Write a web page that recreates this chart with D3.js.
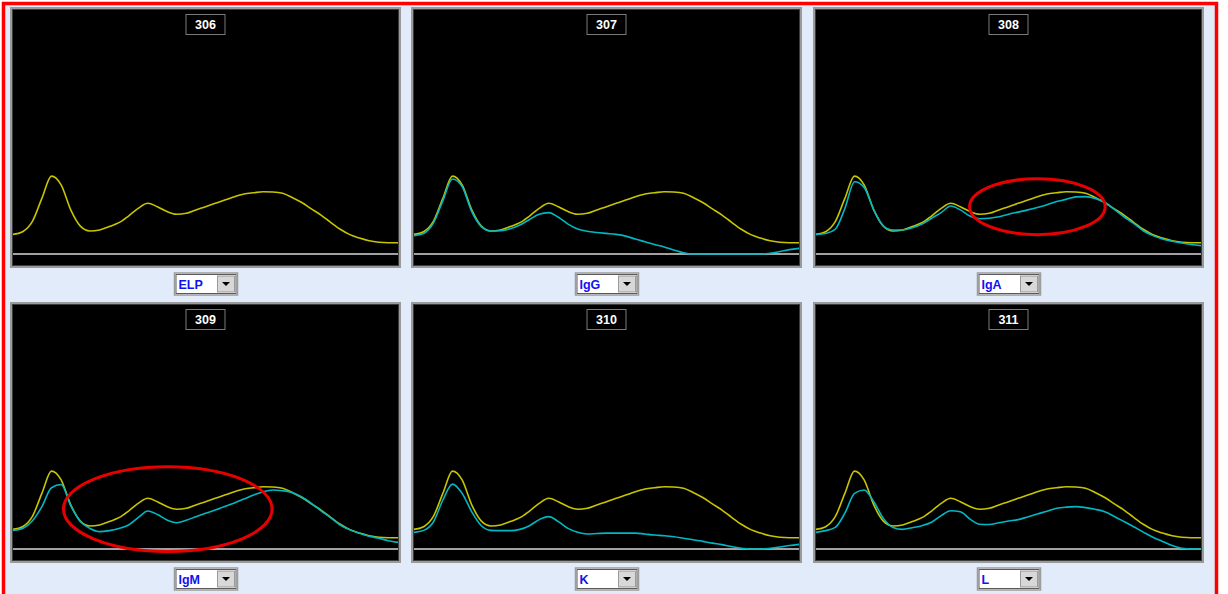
<!DOCTYPE html>
<html><head><meta charset="utf-8">
<script src="https://cdn.jsdelivr.net/npm/d3@7"></script>
<style>
html,body{margin:0;padding:0;background:#fff;}
svg{display:block;}
</style></head>
<body>
<svg id="chart" width="1228" height="594"></svg>
<script>
// ---------- DATA ----------
// x positions (percent of mobility axis)
const xPos = d3.range(0, 100.01, 2.5);
// reference serum protein electrophoresis (ELP) trace, % of panel height
const elpRef = [8.0,9.1,13.2,22.7,31.8,28.2,18.0,11.4,9.4,9.8,11.2,12.8,15.5,18.6,20.7,19.3,17.3,16.2,16.6,18.0,19.3,20.7,22.0,23.4,24.5,25.0,25.4,25.3,24.8,23.1,21.0,18.4,15.9,12.9,10.1,7.9,6.5,5.4,4.8,4.6,4.6];
const igG = [7.5,8.4,12.5,21.8,30.6,27.5,17.3,11.2,9.4,9.5,10.3,11.8,14.1,16.2,16.9,15.0,12.2,10.2,9.3,8.8,8.4,8.0,7.3,6.1,5.0,3.9,2.9,1.6,0.5,0,0,0,0,0,0,0,0,0.3,1.0,1.8,2.3];
const igA = [8.0,8.4,10.1,18.6,29.5,27.2,18.0,11.4,9.8,9.8,10.7,12.2,14.6,16.9,19.6,18.0,15.5,14.4,14.6,15.2,16.2,17.1,18.0,19.0,20.1,21.4,22.3,23.3,23.4,22.7,21.0,18.2,15.2,12.5,9.5,7.5,6.1,5.2,4.5,3.9,3.4];
const igM = [7.6,8.4,11.4,17.3,25.0,26.3,17.7,11.2,8.4,7.1,7.5,8.4,9.8,12.8,15.5,14.1,11.8,10.7,11.7,13.2,14.6,15.9,17.3,18.8,20.4,22.0,23.4,24.1,23.8,23.1,21.2,18.6,15.6,12.8,9.8,7.8,6.4,5.2,4.4,3.4,2.7];
const kappa = [6.8,7.6,10.9,20.0,26.5,22.7,15.2,9.5,7.6,7.5,7.5,8.0,9.5,12.0,13.2,11.2,8.4,6.8,6.1,6.3,6.5,6.5,6.5,6.5,6.1,5.7,5.4,5.0,4.4,3.8,3.1,2.4,1.8,1.0,0.3,0,0,0.3,0.8,1.4,1.9];
const lambda = [6.8,7.5,8.8,14.6,22.7,24.1,19.3,12.5,8.8,8.0,8.7,9.5,10.9,13.6,15.6,15.2,12.2,10.1,10.0,10.7,11.4,12.0,13.1,14.3,15.4,16.6,17.1,17.3,16.9,16.2,15.2,13.3,11.2,9.1,6.9,4.8,3.1,1.4,0.3,0,0];
// panel labels
const panelNumbers = ["306","307","308","309","310","311"];
const panelLabels = ["ELP","IgG","IgA","IgM","K","L"];
const panelSeries = [null, igG, igA, igM, kappa, lambda];
// highlighted regions: [panel index, center x, center y, x radius, y radius] in data units
const highlights = [[2, 57.5, 19.3, 17.6, 11.4],[3, 40.2, 16.3, 27.1, 17.3]];

// ---------- LAYOUT ----------
const svg = d3.select("#chart");
const W = 1228, H = 594;
svg.append("rect").attr("x",0).attr("y",0).attr("width",W).attr("height",H).attr("fill","#ffffff");
svg.append("rect").attr("x",2).attr("y",2).attr("width",1216).attr("height",H).attr("fill","#E1EBFA");
// red frame
svg.append("path").attr("d","M3.5,597 V3.5 H1216.5 V597").attr("fill","none").attr("stroke","#FF0000").attr("stroke-width",3.5);

const colX = [12, 413, 815];
const rowY = [9, 304];
const pw = 387, ph = 257, baseOff = 245;

panelNumbers.forEach((num, i) => {
  const px = colX[i % 3], py = rowY[Math.floor(i / 3)];
  const g = svg.append("g").attr("transform", `translate(${px},${py})`);
  g.append("rect").attr("x",-1).attr("y",-1).attr("width",pw+2).attr("height",ph+2)
    .attr("fill","#000").attr("stroke","#9a9a9a").attr("stroke-width",2);
  g.append("rect").attr("x",0.5).attr("y",0.5).attr("width",pw-1).attr("height",ph-1)
    .attr("fill","none").attr("stroke","#3c3c3c").attr("stroke-width",1);

  const x = d3.scaleLinear().domain([0,100]).range([1, pw-1]);
  const y = d3.scaleLinear().domain([0,100]).range([baseOff, 0]);

  // baseline
  g.append("line").attr("x1",1).attr("x2",pw-1).attr("y1",y(0)).attr("y2",y(0))
    .attr("stroke","#d8d8d8").attr("stroke-width",1.5);

  const line = d3.line().x((d,k)=>x(xPos[k])).y(d=>y(d)).curve(d3.curveMonotoneX);
  const ser = panelSeries[i];
  g.append("path").datum(elpRef).attr("d",line).attr("fill","none")
    .attr("stroke","#C8C400").attr("stroke-width",1.6);
  if (ser) {
    g.append("path").datum(ser).attr("d",line).attr("fill","none")
      .attr("stroke","#00B8C4").attr("stroke-width",1.6);
  }

  highlights.filter(h=>h[0]===i).forEach(h=>{
    g.append("ellipse").attr("cx",x(h[1])).attr("cy",y(h[2]))
      .attr("rx",x(h[3])-x(0)).attr("ry",y(0)-y(h[4]))
      .attr("fill","none").attr("stroke","#E80000").attr("stroke-width",3);
  });

  // title box
  const cx = pw/2;
  g.append("rect").attr("x",cx-19.5).attr("y",5.5).attr("width",39).attr("height",20)
    .attr("fill","#000").attr("stroke","#7a7a7a").attr("stroke-width",1);
  g.append("text").attr("x",cx).attr("y",20).attr("text-anchor","middle")
    .attr("fill","#ffffff").attr("font-family","Liberation Sans, Arial, sans-serif")
    .attr("font-weight","bold").attr("font-size",12.5).text(num);

  // dropdown
  const dx = cx - 31, dy = 264;
  g.append("rect").attr("x",dx).attr("y",dy).attr("width",63).attr("height",22)
    .attr("fill","#ffffff").attr("stroke","#9c9c9c").attr("stroke-width",1.5);
  g.append("rect").attr("x",dx+1.5).attr("y",dy+1.5).attr("width",60).attr("height",19)
    .attr("fill","none").attr("stroke","#5a5a5a").attr("stroke-width",1);
  g.append("rect").attr("x",dx+43).attr("y",dy+3).attr("width",17).attr("height",16)
    .attr("fill","#D8D8D8").attr("stroke","#888").attr("stroke-width",0.8);
  g.append("path").attr("d",`M${dx+47.5},${dy+9} h8 l-4,4 z`).attr("fill","#000");
  g.append("text").attr("x",dx+4).attr("y",dy+16).attr("fill","#1010F0")
    .attr("font-family","Liberation Sans, Arial, sans-serif").attr("font-weight","bold")
    .attr("font-size",12.5).text(panelLabels[i]);
});
</script>
</body></html>
